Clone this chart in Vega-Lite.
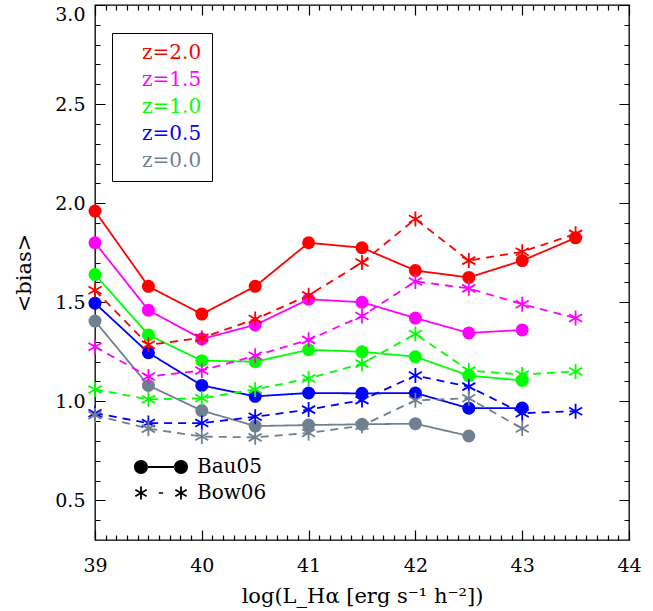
{
  "$schema": "https://vega.github.io/schema/vega-lite/v6.json",
  "width": 534,
  "height": 535,
  "autosize": {"type": "none"},
  "padding": {"left": 95, "top": 5, "right": 24, "bottom": 71},
  "background": "white",
  "config": {
    "view": {"stroke": "black", "strokeWidth": 1.3},
    "font": "DejaVu Serif",
    "axis": {
      "domain": false,
      "ticks": false,
      "gridColor": "black",
      "gridOpacity": 1,
      "gridWidth": 1.2,
      "labelColor": "black",
      "titleColor": "black",
      "labelFont": "DejaVu Serif",
      "titleFont": "DejaVu Serif",
      "labelFontSize": 19,
      "titleFontSize": 21,
      "titleFontWeight": "normal"
    }
  },
  "data": {
    "values": [
      {"model": "Bau05", "z": "z=2.0", "L": 39.0, "bias": 1.96},
      {"model": "Bau05", "z": "z=2.0", "L": 39.5, "bias": 1.58},
      {"model": "Bau05", "z": "z=2.0", "L": 40.0, "bias": 1.44},
      {"model": "Bau05", "z": "z=2.0", "L": 40.5, "bias": 1.58},
      {"model": "Bau05", "z": "z=2.0", "L": 41.0, "bias": 1.80},
      {"model": "Bau05", "z": "z=2.0", "L": 41.5, "bias": 1.775},
      {"model": "Bau05", "z": "z=2.0", "L": 42.0, "bias": 1.66},
      {"model": "Bau05", "z": "z=2.0", "L": 42.5, "bias": 1.625},
      {"model": "Bau05", "z": "z=2.0", "L": 43.0, "bias": 1.71},
      {"model": "Bau05", "z": "z=2.0", "L": 43.5, "bias": 1.825},
      {"model": "Bau05", "z": "z=1.5", "L": 39.0, "bias": 1.80},
      {"model": "Bau05", "z": "z=1.5", "L": 39.5, "bias": 1.46},
      {"model": "Bau05", "z": "z=1.5", "L": 40.0, "bias": 1.315},
      {"model": "Bau05", "z": "z=1.5", "L": 40.5, "bias": 1.385},
      {"model": "Bau05", "z": "z=1.5", "L": 41.0, "bias": 1.515},
      {"model": "Bau05", "z": "z=1.5", "L": 41.5, "bias": 1.50},
      {"model": "Bau05", "z": "z=1.5", "L": 42.0, "bias": 1.42},
      {"model": "Bau05", "z": "z=1.5", "L": 42.5, "bias": 1.345},
      {"model": "Bau05", "z": "z=1.5", "L": 43.0, "bias": 1.36},
      {"model": "Bau05", "z": "z=1.0", "L": 39.0, "bias": 1.64},
      {"model": "Bau05", "z": "z=1.0", "L": 39.5, "bias": 1.335},
      {"model": "Bau05", "z": "z=1.0", "L": 40.0, "bias": 1.205},
      {"model": "Bau05", "z": "z=1.0", "L": 40.5, "bias": 1.20},
      {"model": "Bau05", "z": "z=1.0", "L": 41.0, "bias": 1.26},
      {"model": "Bau05", "z": "z=1.0", "L": 41.5, "bias": 1.25},
      {"model": "Bau05", "z": "z=1.0", "L": 42.0, "bias": 1.225},
      {"model": "Bau05", "z": "z=1.0", "L": 42.5, "bias": 1.13},
      {"model": "Bau05", "z": "z=1.0", "L": 43.0, "bias": 1.105},
      {"model": "Bau05", "z": "z=0.5", "L": 39.0, "bias": 1.495},
      {"model": "Bau05", "z": "z=0.5", "L": 39.5, "bias": 1.245},
      {"model": "Bau05", "z": "z=0.5", "L": 40.0, "bias": 1.08},
      {"model": "Bau05", "z": "z=0.5", "L": 40.5, "bias": 1.025},
      {"model": "Bau05", "z": "z=0.5", "L": 41.0, "bias": 1.042},
      {"model": "Bau05", "z": "z=0.5", "L": 41.5, "bias": 1.04},
      {"model": "Bau05", "z": "z=0.5", "L": 42.0, "bias": 1.042},
      {"model": "Bau05", "z": "z=0.5", "L": 42.5, "bias": 0.965},
      {"model": "Bau05", "z": "z=0.5", "L": 43.0, "bias": 0.966},
      {"model": "Bau05", "z": "z=0.0", "L": 39.0, "bias": 1.405},
      {"model": "Bau05", "z": "z=0.0", "L": 39.5, "bias": 1.08},
      {"model": "Bau05", "z": "z=0.0", "L": 40.0, "bias": 0.953},
      {"model": "Bau05", "z": "z=0.0", "L": 40.5, "bias": 0.875},
      {"model": "Bau05", "z": "z=0.0", "L": 41.0, "bias": 0.88},
      {"model": "Bau05", "z": "z=0.0", "L": 41.5, "bias": 0.884},
      {"model": "Bau05", "z": "z=0.0", "L": 42.0, "bias": 0.887},
      {"model": "Bau05", "z": "z=0.0", "L": 42.5, "bias": 0.825},
      {"model": "Bow06", "z": "z=2.0", "L": 39.0, "bias": 1.56},
      {"model": "Bow06", "z": "z=2.0", "L": 39.5, "bias": 1.285},
      {"model": "Bow06", "z": "z=2.0", "L": 40.0, "bias": 1.32},
      {"model": "Bow06", "z": "z=2.0", "L": 40.5, "bias": 1.415},
      {"model": "Bow06", "z": "z=2.0", "L": 41.0, "bias": 1.535},
      {"model": "Bow06", "z": "z=2.0", "L": 41.5, "bias": 1.70},
      {"model": "Bow06", "z": "z=2.0", "L": 42.0, "bias": 1.92},
      {"model": "Bow06", "z": "z=2.0", "L": 42.5, "bias": 1.71},
      {"model": "Bow06", "z": "z=2.0", "L": 43.0, "bias": 1.755},
      {"model": "Bow06", "z": "z=2.0", "L": 43.5, "bias": 1.845},
      {"model": "Bow06", "z": "z=1.5", "L": 39.0, "bias": 1.275},
      {"model": "Bow06", "z": "z=1.5", "L": 39.5, "bias": 1.125},
      {"model": "Bow06", "z": "z=1.5", "L": 40.0, "bias": 1.155},
      {"model": "Bow06", "z": "z=1.5", "L": 40.5, "bias": 1.23},
      {"model": "Bow06", "z": "z=1.5", "L": 41.0, "bias": 1.31},
      {"model": "Bow06", "z": "z=1.5", "L": 41.5, "bias": 1.43},
      {"model": "Bow06", "z": "z=1.5", "L": 42.0, "bias": 1.605},
      {"model": "Bow06", "z": "z=1.5", "L": 42.5, "bias": 1.57},
      {"model": "Bow06", "z": "z=1.5", "L": 43.0, "bias": 1.49},
      {"model": "Bow06", "z": "z=1.5", "L": 43.5, "bias": 1.42},
      {"model": "Bow06", "z": "z=1.0", "L": 39.0, "bias": 1.06},
      {"model": "Bow06", "z": "z=1.0", "L": 39.5, "bias": 1.01},
      {"model": "Bow06", "z": "z=1.0", "L": 40.0, "bias": 1.015},
      {"model": "Bow06", "z": "z=1.0", "L": 40.5, "bias": 1.06},
      {"model": "Bow06", "z": "z=1.0", "L": 41.0, "bias": 1.115},
      {"model": "Bow06", "z": "z=1.0", "L": 41.5, "bias": 1.19},
      {"model": "Bow06", "z": "z=1.0", "L": 42.0, "bias": 1.34},
      {"model": "Bow06", "z": "z=1.0", "L": 42.5, "bias": 1.155},
      {"model": "Bow06", "z": "z=1.0", "L": 43.0, "bias": 1.135},
      {"model": "Bow06", "z": "z=1.0", "L": 43.5, "bias": 1.15},
      {"model": "Bow06", "z": "z=0.5", "L": 39.0, "bias": 0.94},
      {"model": "Bow06", "z": "z=0.5", "L": 39.5, "bias": 0.89},
      {"model": "Bow06", "z": "z=0.5", "L": 40.0, "bias": 0.89},
      {"model": "Bow06", "z": "z=0.5", "L": 40.5, "bias": 0.922},
      {"model": "Bow06", "z": "z=0.5", "L": 41.0, "bias": 0.958},
      {"model": "Bow06", "z": "z=0.5", "L": 41.5, "bias": 1.006},
      {"model": "Bow06", "z": "z=0.5", "L": 42.0, "bias": 1.13},
      {"model": "Bow06", "z": "z=0.5", "L": 42.5, "bias": 1.074},
      {"model": "Bow06", "z": "z=0.5", "L": 43.0, "bias": 0.94},
      {"model": "Bow06", "z": "z=0.5", "L": 43.5, "bias": 0.95},
      {"model": "Bow06", "z": "z=0.0", "L": 39.0, "bias": 0.93},
      {"model": "Bow06", "z": "z=0.0", "L": 39.5, "bias": 0.862},
      {"model": "Bow06", "z": "z=0.0", "L": 40.0, "bias": 0.822},
      {"model": "Bow06", "z": "z=0.0", "L": 40.5, "bias": 0.818},
      {"model": "Bow06", "z": "z=0.0", "L": 41.0, "bias": 0.84},
      {"model": "Bow06", "z": "z=0.0", "L": 41.5, "bias": 0.877},
      {"model": "Bow06", "z": "z=0.0", "L": 42.0, "bias": 1.005},
      {"model": "Bow06", "z": "z=0.0", "L": 42.5, "bias": 1.015},
      {"model": "Bow06", "z": "z=0.0", "L": 43.0, "bias": 0.863}
    ]
  },
  "layer": [
    {
      "mark": {"type": "line", "strokeWidth": 1.8},
      "encoding": {
        "x": {
          "field": "L", "type": "quantitative",
          "scale": {"domain": [39, 44], "nice": false, "zero": false},
          "axis": {"orient": "bottom", "values": [39, 40, 41, 42, 43, 44], "format": "d", "grid": true, "gridDash": [10, 515, 10, 200], "labelPadding": 16, "labelFlush": false, "title": "log(L_Hα [erg s⁻¹ h⁻²])", "titlePadding": 10}
        },
        "y": {
          "field": "bias", "type": "quantitative",
          "scale": {"domain": [0.3, 3.0], "nice": false, "zero": false},
          "axis": {"orient": "left", "values": [0.5, 1.0, 1.5, 2.0, 2.5, 3.0], "format": ".1f", "grid": true, "gridDash": [10, 514, 10, 200], "labelPadding": 10, "labelFlush": true, "title": "<bias>", "titlePadding": 20}
        },
        "color": {
          "field": "z", "type": "nominal",
          "scale": {"domain": ["z=2.0", "z=1.5", "z=1.0", "z=0.5", "z=0.0"], "range": ["#ff0000", "#ff00ff", "#00ff00", "#0000ff", "#708090"]},
          "legend": {
            "title": null, "orient": "none", "legendX": 17, "legendY": 28, "direction": "vertical",
            "symbolSize": 289, "symbolOpacity": 0, "labelOffset": 0,
            "labelFont": "DejaVu Serif", "labelFontSize": 20, "rowPadding": 7, "padding": 10,
            "strokeColor": "black", "fillColor": "white",
            "encode": {
              "labels": {
                "update": {
                  "fill": {"scale": "color", "field": "value"}
                }
              }
            }
          }
        },
        "strokeDash": {
          "field": "model", "type": "nominal",
          "scale": {"domain": ["Bau05", "Bow06"], "range": [[1, 0], [8, 6]]},
          "legend": {
            "title": null, "orient": "none", "legendX": 56, "legendY": 452, "direction": "vertical",
            "symbolSize": 196, "labelOffset": 26,
            "labelFont": "DejaVu Serif", "labelFontSize": 20, "rowPadding": 6, "padding": 0,
            "encode": {
              "symbols": {
                "update": {
                  "shape": [
                    {"test": "datum.value === 'Bau05'", "value": "M-3.857,0A1,1 0 1,0 -1.857,0A1,1 0 1,0 -3.857,0Z M1.857,0A1,1 0 1,0 3.857,0A1,1 0 1,0 1.857,0Z M-1.9,-0.14L1.9,-0.14L1.9,0.14L-1.9,0.14Z"},
                    {"value": "M-2.987,-0.93L-2.727,-0.93L-2.727,0.93L-2.987,0.93Z M-3.727,-0.352L-3.597,-0.578L-1.987,0.352L-2.117,0.578Z M-3.597,0.578L-3.727,0.352L-2.117,-0.578L-1.987,-0.352Z M2.727,-0.93L2.987,-0.93L2.987,0.93L2.727,0.93Z M1.987,-0.352L2.117,-0.578L3.727,0.352L3.597,0.578Z M2.117,0.578L1.987,0.352L3.597,-0.578L3.727,-0.352Z M-0.3,-0.12L0.3,-0.12L0.3,0.12L-0.3,0.12Z"}
                  ],
                  "fill": {"value": "black"},
                  "fillOpacity": {"value": 1},
                  "stroke": {"value": "transparent"},
                  "strokeWidth": {"value": 0},
                  "opacity": {"value": 1}
                }
              }
            }
          }
        },
        "detail": {"field": "model", "type": "nominal"}
      }
    },
    {
      "transform": [{"filter": "datum.model === 'Bau05'"}],
      "mark": {"type": "point", "shape": "circle", "filled": true, "size": 169, "opacity": 1},
      "encoding": {
        "x": {"field": "L", "type": "quantitative", "axis": {"orient": "bottom", "values": [39.1,39.2,39.3,39.4,39.5,39.6,39.7,39.8,39.9,40.1,40.2,40.3,40.4,40.5,40.6,40.7,40.8,40.9,41.1,41.2,41.3,41.4,41.5,41.6,41.7,41.8,41.9,42.1,42.2,42.3,42.4,42.5,42.6,42.7,42.8,42.9,43.1,43.2,43.3,43.4,43.5,43.6,43.7,43.8,43.9], "grid": true, "gridDash": [5, 525, 5, 200], "labels": false, "title": null}},
        "y": {"field": "bias", "type": "quantitative", "axis": {"orient": "left", "values": [0.4,0.6,0.7,0.8,0.9,1.1,1.2,1.3,1.4,1.6,1.7,1.8,1.9,2.1,2.2,2.3,2.4,2.6,2.7,2.8,2.9], "grid": true, "gridDash": [5, 524, 5, 200], "labels": false, "title": null}},
        "color": {"field": "z", "type": "nominal"}
      }
    },
    {
      "transform": [{"filter": "datum.model === 'Bow06'"}],
      "mark": {"type": "point", "shape": "M0,-1L0,1M-0.87,-0.5L0.87,0.5M-0.87,0.5L0.87,-0.5", "filled": false, "size": 225, "strokeWidth": 1.8, "opacity": 1},
      "encoding": {
        "x": {"field": "L", "type": "quantitative", "axis": null},
        "y": {"field": "bias", "type": "quantitative", "axis": null},
        "color": {"field": "z", "type": "nominal"}
      }
    }
  ],
  "resolve": {"axis": {"x": "independent", "y": "independent"}}
}
